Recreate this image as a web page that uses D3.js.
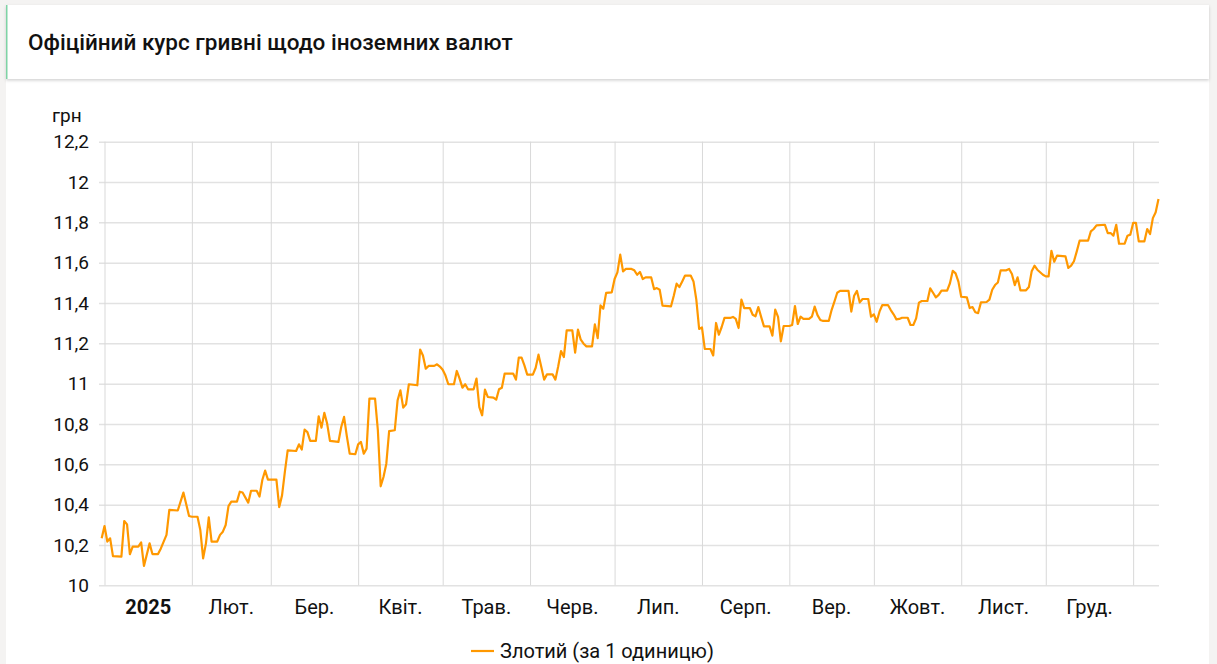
<!DOCTYPE html>
<html>
<head>
<meta charset="utf-8">
<script src="https://cdn.jsdelivr.net/npm/d3@7"></script>
<style>
  html, body { margin: 0; padding: 0; background: #f4f3f2; }
  svg { display: block; font-family: Roboto, "Noto Sans", sans-serif; }
</style>
</head>
<body>
<div id="chart"></div>
<script>
// official UAH rate for 1 PLN
let dates = [
  "2024-12-31","2025-01-01","2025-01-02","2025-01-03","2025-01-04","2025-01-07","2025-01-08","2025-01-09","2025-01-10","2025-01-11",
  "2025-01-13","2025-01-14","2025-01-15","2025-01-17","2025-01-18","2025-01-20","2025-01-21","2025-01-23","2025-01-24","2025-01-27",
  "2025-01-28","2025-01-29","2025-01-31","2025-02-01","2025-02-03","2025-02-04","2025-02-05","2025-02-06","2025-02-07","2025-02-08",
  "2025-02-10","2025-02-11","2025-02-12","2025-02-13","2025-02-14","2025-02-15","2025-02-17","2025-02-18","2025-02-19","2025-02-21",
  "2025-02-22","2025-02-24","2025-02-25","2025-02-26","2025-02-27","2025-02-28","2025-03-03","2025-03-04","2025-03-05","2025-03-06",
  "2025-03-07","2025-03-10","2025-03-11","2025-03-12","2025-03-13","2025-03-14","2025-03-15","2025-03-17","2025-03-18","2025-03-19",
  "2025-03-20","2025-03-21","2025-03-22","2025-03-25","2025-03-26","2025-03-27","2025-03-28","2025-03-29","2025-03-31","2025-04-01",
  "2025-04-02","2025-04-03","2025-04-04","2025-04-05","2025-04-07","2025-04-08","2025-04-09","2025-04-10","2025-04-11","2025-04-12",
  "2025-04-14","2025-04-15","2025-04-16","2025-04-17","2025-04-18","2025-04-19","2025-04-22","2025-04-23","2025-04-24","2025-04-25",
  "2025-04-26","2025-04-28","2025-04-29","2025-04-30","2025-05-01","2025-05-02","2025-05-03","2025-05-05","2025-05-06","2025-05-07",
  "2025-05-08","2025-05-09","2025-05-10","2025-05-12","2025-05-13","2025-05-14","2025-05-15","2025-05-16","2025-05-17","2025-05-19",
  "2025-05-20","2025-05-21","2025-05-22","2025-05-23","2025-05-26","2025-05-27","2025-05-28","2025-05-29","2025-05-30","2025-05-31",
  "2025-06-02","2025-06-03","2025-06-04","2025-06-05","2025-06-06","2025-06-07","2025-06-09","2025-06-10","2025-06-11","2025-06-12",
  "2025-06-13","2025-06-14","2025-06-16","2025-06-17","2025-06-18","2025-06-19","2025-06-20","2025-06-21","2025-06-23","2025-06-24",
  "2025-06-25","2025-06-26","2025-06-27","2025-06-28","2025-06-30","2025-07-01","2025-07-02","2025-07-03","2025-07-04","2025-07-05",
  "2025-07-07","2025-07-08","2025-07-09","2025-07-10","2025-07-11","2025-07-12","2025-07-14","2025-07-15","2025-07-16","2025-07-17",
  "2025-07-18","2025-07-21","2025-07-22","2025-07-23","2025-07-24","2025-07-25","2025-07-26","2025-07-28","2025-07-29","2025-07-30",
  "2025-07-31","2025-08-01","2025-08-02","2025-08-04","2025-08-05","2025-08-06","2025-08-07","2025-08-08","2025-08-09","2025-08-11",
  "2025-08-12","2025-08-13","2025-08-14","2025-08-15","2025-08-16","2025-08-18","2025-08-19","2025-08-20","2025-08-21","2025-08-22",
  "2025-08-23","2025-08-25","2025-08-26","2025-08-27","2025-08-28","2025-08-29","2025-08-30","2025-09-01","2025-09-02","2025-09-03",
  "2025-09-04","2025-09-05","2025-09-06","2025-09-08","2025-09-09","2025-09-10","2025-09-11","2025-09-12","2025-09-13","2025-09-15",
  "2025-09-16","2025-09-17","2025-09-18","2025-09-19","2025-09-22","2025-09-23","2025-09-24","2025-09-25","2025-09-26","2025-09-27",
  "2025-09-29","2025-09-30","2025-10-01","2025-10-02","2025-10-03","2025-10-04","2025-10-06","2025-10-07","2025-10-08","2025-10-09",
  "2025-10-10","2025-10-11","2025-10-13","2025-10-14","2025-10-15","2025-10-16","2025-10-17","2025-10-18","2025-10-20","2025-10-21",
  "2025-10-22","2025-10-23","2025-10-24","2025-10-25","2025-10-27","2025-10-28","2025-10-29","2025-10-30","2025-10-31","2025-11-01",
  "2025-11-03","2025-11-04","2025-11-05","2025-11-06","2025-11-07","2025-11-08","2025-11-10","2025-11-11","2025-11-12","2025-11-13",
  "2025-11-14","2025-11-15","2025-11-17","2025-11-18","2025-11-19","2025-11-20","2025-11-21","2025-11-22","2025-11-24","2025-11-25",
  "2025-11-26","2025-11-27","2025-11-28","2025-11-30","2025-12-01","2025-12-02","2025-12-03","2025-12-04","2025-12-05","2025-12-08",
  "2025-12-09","2025-12-10","2025-12-11","2025-12-12","2025-12-13","2025-12-16","2025-12-17","2025-12-18","2025-12-19","2025-12-22",
  "2025-12-23","2025-12-24","2025-12-25","2025-12-26","2025-12-27","2025-12-29","2025-12-30","2025-12-31","2026-01-01","2026-01-02",
  "2026-01-03","2026-01-05","2026-01-06","2026-01-07","2026-01-08","2026-01-09","2026-01-10"
];
let rates = [
  10.233,10.294,10.217,10.233,10.145,10.142,10.319,10.302,10.154,10.192,
  10.192,10.213,10.096,10.208,10.155,10.155,10.183,10.250,10.374,10.371,
  10.415,10.460,10.344,10.340,10.340,10.274,10.134,10.208,10.337,10.217,
  10.217,10.250,10.266,10.299,10.393,10.415,10.415,10.464,10.460,10.410,
  10.469,10.469,10.440,10.522,10.569,10.524,10.524,10.388,10.446,10.562,
  10.669,10.666,10.699,10.673,10.772,10.760,10.716,10.716,10.838,10.782,
  10.855,10.802,10.716,10.711,10.785,10.835,10.739,10.653,10.650,10.699,
  10.711,10.653,10.678,10.926,10.926,10.769,10.491,10.537,10.603,10.765,
  10.769,10.917,10.967,10.881,10.898,10.997,10.992,11.169,11.140,11.074,
  11.088,11.088,11.096,11.085,11.069,11.040,10.997,10.997,11.063,11.025,
  10.980,10.997,10.972,10.972,11.025,10.884,10.843,10.970,10.934,10.931,
  10.921,10.972,10.980,11.050,11.050,11.020,11.129,11.129,11.091,11.045,
  11.045,11.079,11.144,11.083,11.020,11.046,11.046,11.020,11.086,11.162,
  11.132,11.264,11.264,11.154,11.268,11.218,11.198,11.185,11.185,11.294,
  11.226,11.388,11.372,11.450,11.453,11.519,11.552,11.640,11.557,11.569,
  11.569,11.562,11.540,11.554,11.519,11.527,11.527,11.469,11.474,11.466,
  11.387,11.383,11.436,11.496,11.479,11.507,11.536,11.536,11.507,11.417,
  11.271,11.279,11.172,11.172,11.140,11.301,11.243,11.281,11.326,11.326,
  11.331,11.321,11.276,11.417,11.375,11.375,11.342,11.334,11.380,11.331,
  11.284,11.284,11.238,11.367,11.331,11.210,11.286,11.286,11.291,11.385,
  11.296,11.332,11.321,11.321,11.332,11.382,11.340,11.316,11.311,11.311,
  11.365,11.407,11.451,11.460,11.460,11.357,11.436,11.460,11.403,11.420,
  11.420,11.332,11.344,11.307,11.357,11.390,11.390,11.365,11.344,11.319,
  11.321,11.327,11.327,11.291,11.291,11.324,11.402,11.410,11.410,11.473,
  11.451,11.428,11.440,11.461,11.461,11.498,11.560,11.547,11.506,11.431,
  11.428,11.375,11.380,11.354,11.350,11.403,11.405,11.417,11.466,11.489,
  11.502,11.562,11.562,11.569,11.544,11.489,11.527,11.463,11.463,11.479,
  11.557,11.585,11.565,11.540,11.532,11.532,11.659,11.605,11.635,11.631,
  11.574,11.585,11.607,11.656,11.709,11.709,11.755,11.767,11.785,11.788,
  11.747,11.747,11.734,11.788,11.694,11.694,11.734,11.739,11.797,11.797,
  11.706,11.706,11.767,11.742,11.821,11.850,11.916
];
let yTicks = [10, 10.2, 10.4, 10.6, 10.8, 11, 11.2, 11.4, 11.6, 11.8, 12, 12.2];
let monthStarts = ["2025-01-01","2025-02-01","2025-03-01","2025-04-01","2025-05-01","2025-06-01",
                   "2025-07-01","2025-08-01","2025-09-01","2025-10-01","2025-11-01","2025-12-01","2026-01-01"];
let monthLabels = ["2025","Лют.","Бер.","Квіт.","Трав.","Черв.","Лип.","Серп.","Вер.","Жовт.","Лист.","Груд."];
let title = "Офіційний курс гривні щодо іноземних валют";
let unit = "грн";
let seriesName = "Злотий (за 1 одиницю)";

function go(){
    let width = 1217,
        height = 664;
    let left = 104.5, right = 1158.5, top = 141.7, bottom = 585.3;
    let lineColor = "#ff9800";
    let parse = d3.utcParse("%Y-%m-%d");

    let svg = d3.select("#chart")
        .append("svg")
        .attr("width", width)
        .attr("height", height);

    let defs = svg.append("defs");
    let shadow = defs.append("filter").attr("id", "shadow")
        .attr("x", "-2%").attr("y", "-20%").attr("width", "104%").attr("height", "150%");
    shadow.append("feDropShadow")
        .attr("dx", 0).attr("dy", 1.5).attr("stdDeviation", 1.5)
        .attr("flood-color", "#000").attr("flood-opacity", 0.18);

    // page background and cards
    svg.append("rect").attr("width", width).attr("height", height).attr("fill", "#f4f3f2");
    svg.append("rect").attr("x", 6).attr("y", 79).attr("width", 1203).attr("height", height - 79)
        .attr("fill", "#fff");
    svg.append("rect").attr("x", 6).attr("y", 5).attr("width", 1203).attr("height", 74)
        .attr("fill", "#fff").attr("filter", "url(#shadow)");
    svg.append("rect").attr("x", 6).attr("y", 5).attr("width", 1.5).attr("height", 74)
        .attr("fill", "#7fd3a5");

    svg.append("text")
        .attr("x", 28).attr("y", 50)
        .attr("font-size", 22.5).attr("font-weight", 500).attr("fill", "#111")
        .text(title);

    let data = dates.map(function(d, i){
        return {date: parse(d), value: rates[i]};
    });

    let x = d3.scaleUtc()
        .domain([parse("2025-01-01"), parse("2026-01-10")])
        .range([left, right]);
    let y = d3.scaleLinear()
        .domain([10, 12.2])
        .range([bottom, top]);

    // horizontal grid + y labels
    let yAxis = svg.append("g")
        .attr("transform", "translate(" + (right + 0.5) + ",0)")
        .call(d3.axisLeft(y)
            .tickValues(yTicks)
            .tickSize(right + 0.5 - 99)
            .tickPadding(10)
            .tickFormat(function(d){ return String(d).replace(".", ","); }));
    yAxis.select(".domain").remove();
    yAxis.selectAll(".tick line").attr("stroke", "#e2e2e2").attr("stroke-width", 1.5);
    yAxis.selectAll(".tick text")
        .attr("font-size", 19).attr("fill", "#111")
        .attr("font-family", "Roboto, sans-serif");

    // vertical grid at month starts
    let xAxis = svg.append("g")
        .attr("transform", "translate(0," + bottom + ")")
        .call(d3.axisBottom(x)
            .tickValues(monthStarts.map(parse))
            .tickSize(-(bottom - top))
            .tickFormat(""));
    xAxis.select(".domain").remove();
    xAxis.selectAll(".tick line").attr("stroke", "#d9d9d9").attr("stroke-width", 1);

    // month labels centred in each month
    svg.append("g").selectAll("text")
        .data(monthLabels)
        .enter().append("text")
        .attr("x", function(d, i){
            return (x(parse(monthStarts[i])) + x(parse(monthStarts[i + 1]))) / 2;
        })
        .attr("y", 614)
        .attr("text-anchor", "middle")
        .attr("font-size", 20)
        .attr("font-weight", function(d, i){ return i === 0 ? 700 : 400; })
        .attr("fill", "#111")
        .text(function(d){ return d; });

    svg.append("text")
        .attr("x", 52).attr("y", 122)
        .attr("font-size", 19).attr("fill", "#111")
        .text(unit);

    let line = d3.line()
        .x(function(d){ return x(d.date); })
        .y(function(d){ return y(d.value); });

    svg.append("path")
        .datum(data)
        .attr("d", line)
        .attr("fill", "none")
        .attr("stroke", lineColor)
        .attr("stroke-width", 2.2)
        .attr("stroke-linejoin", "round");

    // legend
    let legend = svg.append("g").attr("transform", "translate(471,651)");
    legend.append("line")
        .attr("x1", 0).attr("x2", 23).attr("y1", 0).attr("y2", 0)
        .attr("stroke", lineColor).attr("stroke-width", 2.2);
    legend.append("text")
        .attr("x", 29).attr("y", 7)
        .attr("font-size", 20).attr("fill", "#111")
        .text(seriesName);
}

go();
</script>
</body>
</html>
